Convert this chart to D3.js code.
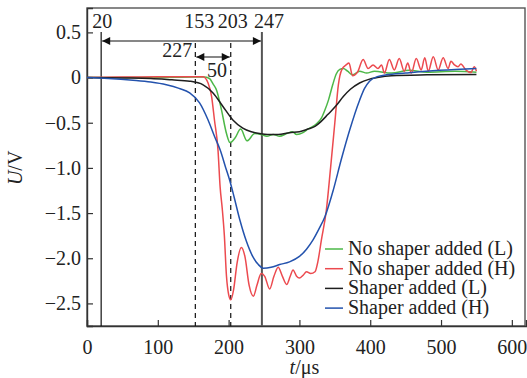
<!DOCTYPE html>
<html>
<head>
<meta charset="utf-8">
<script src="https://cdn.jsdelivr.net/npm/d3@7"></script>
<style>
  body { margin: 0; background: #fff; }
  text { font-family: "Liberation Serif", "Times New Roman", serif; fill: #222; }
</style>
</head>
<body>
<script>
// values: [t (us), U (V)]
var noShaperL = [[0,0],[100,0],[150,0.005],[165,0.005],[173,-0.01],[178,-0.07],[183,-0.14],[190,-0.36],[197,-0.62],[202,-0.72],[209,-0.67],[217,-0.57],[226,-0.70],[237,-0.62],[246,-0.63],[254,-0.65],[263,-0.63],[272,-0.65],[282,-0.62],[290,-0.60],[296,-0.63],[305,-0.61],[312,-0.57],[323,-0.52],[331,-0.45],[336,-0.36],[341,-0.25],[347,-0.08],[352,0.04],[357,0.09],[362,0.10],[368,0.07],[375,0.03],[385,0.07],[395,0.05],[406,0.07],[430,0.05],[455,0.08],[480,0.06],[520,0.07],[550,0.06]];

var noShaperH = [[0,0],[50,0.005],[100,0.01],[150,0.01],[164,0.01],[171,-0.06],[176,-0.21],[180,-0.47],[185,-0.80],[188,-1.21],[191,-1.45],[194,-1.75],[197,-2.2],[200,-2.4],[203,-2.46],[207,-2.35],[212,-2.05],[218,-1.88],[223,-1.98],[229,-2.3],[235,-2.42],[240,-2.3],[246,-2.17],[251,-2.2],[258,-2.34],[264,-2.2],[270,-2.1],[276,-2.2],[282,-2.29],[287,-2.2],[291,-2.13],[296,-2.2],[300,-2.22],[305,-2.19],[310,-2.15],[316,-2.17],[322,-2.15],[326,-2.04],[331,-1.80],[338,-1.47],[344,-1.0],[350,-0.5],[355,-0.08],[360,0.09],[366,0.14],[370,0.16],[375,0.02],[382,0.06],[390,0.2],[397,0.10],[404,0.14],[411,0.10],[416,0.14],[420,0.05],[427,0.2],[434,0.085],[441,0.21],[448,0.07],[453,0.16],[458,0.05],[465,0.21],[472,0.085],[477,0.22],[482,0.07],[489,0.23],[496,0.085],[503,0.22],[510,0.10],[514,0.18],[519,0.14],[524,0.12],[528,0.15],[535,0.085],[542,0.055],[547,0.12],[550,0.07]];

var shaperL = [[0,0],[50,-0.005],[90,-0.01],[120,-0.025],[145,-0.04],[164,-0.08],[178,-0.17],[192,-0.32],[206,-0.47],[220,-0.56],[232,-0.60],[244,-0.62],[255,-0.63],[270,-0.63],[286,-0.61],[300,-0.60],[312,-0.57],[322,-0.54],[330,-0.49],[340,-0.41],[352,-0.31],[362,-0.21],[372,-0.13],[385,-0.06],[398,-0.02],[410,0.0],[430,0.02],[480,0.03],[550,0.035]];

var shaperH = [[0,0],[30,-0.01],[65,-0.03],[90,-0.05],[112,-0.08],[130,-0.12],[145,-0.17],[159,-0.28],[171,-0.47],[180,-0.65],[188,-0.80],[196,-1.0],[202,-1.15],[208,-1.33],[216,-1.58],[225,-1.81],[234,-1.98],[242,-2.07],[249,-2.11],[260,-2.10],[272,-2.07],[286,-2.04],[300,-1.98],[310,-1.90],[319,-1.80],[328,-1.67],[336,-1.54],[348,-1.24],[359,-0.91],[371,-0.58],[385,-0.25],[392,-0.12],[399,-0.04],[410,0.01],[423,0.03],[450,0.05],[479,0.07],[520,0.09],[550,0.10]];

var seriesNames = ["No shaper added (L)", "No shaper added (H)", "Shaper added (L)", "Shaper added (H)"];
var seriesColors = ["#4db848", "#ec4a4f", "#1e1e1e", "#2352ad"];

var xTicks = [0, 100, 200, 300, 400, 500, 600];
var yTicks = [0.5, 0, -0.5, -1.0, -1.5, -2.0, -2.5];
var markTimes = [20, 153, 203, 247];

var width = 527, height = 378;
var margin = {top: 8, right: 1, bottom: 52, left: 87};

var svg = d3.select("body").append("svg")
  .attr("width", width)
  .attr("height", height);

var x = d3.scaleLinear().domain([0, 620]).range([margin.left, width - margin.right]);
var y = d3.scaleLinear().domain([-2.75, 0.77]).range([height - margin.bottom, margin.top]);

// arrow heads
var defs = svg.append("defs");
defs.append("marker").attr("id", "arr")
  .attr("viewBox", "0 0 10 10").attr("refX", 10).attr("refY", 5)
  .attr("markerWidth", 14).attr("markerHeight", 8)
  .attr("markerUnits", "userSpaceOnUse")
  .attr("orient", "auto-start-reverse")
  .append("path").attr("d", "M0,0L10,5L0,10Z").attr("fill", "#111");

// frame
svg.append("rect")
  .attr("x", x(0)).attr("y", y(0.77))
  .attr("width", x(620) - x(0) - 1).attr("height", y(-2.75) - y(0.77))
  .attr("fill", "none").attr("stroke", "#555").attr("stroke-width", 1.4);

// axes, ticks inward
var xAxis = svg.append("g")
  .attr("transform", "translate(0," + y(-2.75) + ")")
  .call(d3.axisBottom(x).tickValues(xTicks).tickSize(-6).tickPadding(14).tickFormat(d3.format("d")));
var yAxis = svg.append("g")
  .attr("transform", "translate(" + x(0) + ",0)")
  .call(d3.axisLeft(y).tickValues(yTicks).tickSize(-6).tickPadding(6)
    .tickFormat(function(d) { return d === 0 ? "0" : d3.format(".1f")(d).replace("-", "\u2212"); }));
[xAxis, yAxis].forEach(function(a) {
  a.select(".domain").attr("stroke", "#333").attr("stroke-width", 1.4);
  a.selectAll(".tick line").attr("stroke", "#333").attr("stroke-width", 1.2);
  a.selectAll(".tick text").style("font-family", "Liberation Serif").style("font-size", "20px").attr("fill", "#222");
});

// marker lines
svg.selectAll(".mark")
  .data(markTimes)
  .enter().append("line")
  .attr("x1", function(d) { return x(d); })
  .attr("x2", function(d) { return x(d); })
  .attr("y1", function(d) { return d === 20 || d === 247 ? 32 : 43; })
  .attr("y2", y(-2.75))
  .attr("stroke", function(d) { return d === 247 ? "#555" : "#111"; })
  .attr("stroke-width", function(d) { return d === 247 ? 2 : 1.2; })
  .attr("stroke-dasharray", function(d) { return d === 153 || d === 203 ? "5,4" : null; });

var labelShift = {20: 1, 153: 4, 203: 2, 247: 7};
svg.selectAll(".marklabel")
  .data(markTimes)
  .enter().append("text")
  .attr("x", function(d) { return x(d) + labelShift[d]; })
  .attr("y", 28)
  .attr("text-anchor", "middle")
  .style("font-size", "20px")
  .text(function(d) { return d; });

// span arrows
svg.append("line")
  .attr("x1", x(20) + 1).attr("x2", x(247) - 1)
  .attr("y1", 41).attr("y2", 41)
  .attr("stroke", "#111").attr("stroke-width", 1.2)
  .attr("marker-start", "url(#arr)").attr("marker-end", "url(#arr)");
svg.append("text").attr("x", x(153) - 3).attr("y", 57)
  .attr("text-anchor", "end").style("font-size", "20px").text(247 - 20);

svg.append("line")
  .attr("x1", x(153) + 1).attr("x2", x(203) - 1)
  .attr("y1", 57).attr("y2", 57)
  .attr("stroke", "#111").attr("stroke-width", 1.2)
  .attr("marker-start", "url(#arr)").attr("marker-end", "url(#arr)");
svg.append("text").attr("x", (x(153) + x(203)) / 2 + 4).attr("y", 77)
  .attr("text-anchor", "middle").style("font-size", "20px").text(203 - 153);

// curves
var line = d3.line()
  .x(function(d) { return x(d[0]); })
  .y(function(d) { return y(d[1]); })
  .curve(d3.curveMonotoneX);

var allSeries = [noShaperL, noShaperH, shaperL, shaperH];
svg.selectAll(".curve")
  .data(allSeries)
  .enter().append("path")
  .attr("fill", "none")
  .attr("stroke", function(d, i) { return seriesColors[i]; })
  .attr("stroke-width", 1.5)
  .attr("d", line);

// legend
var legend = svg.append("g");
seriesNames.forEach(function(name, i) {
  var ly = 249 + i * 19.7;
  legend.append("line")
    .attr("x1", 325).attr("x2", 343).attr("y1", ly).attr("y2", ly)
    .attr("stroke", seriesColors[i]).attr("stroke-width", 1.5);
  legend.append("text")
    .attr("x", 348).attr("y", ly + 6)
    .style("font-size", "20px")
    .text(name);
});

// axis titles
svg.append("text")
  .attr("x", x(300) + 5).attr("y", 374)
  .attr("text-anchor", "middle").style("font-size", "20px")
  .html('<tspan font-style="italic">t</tspan>/\u03bcs');
svg.append("text")
  .attr("transform", "translate(22," + y(-1.0) + ") rotate(-90)")
  .attr("text-anchor", "middle").style("font-size", "20px")
  .html('<tspan font-style="italic">U</tspan>/V');
</script>
</body>
</html>
